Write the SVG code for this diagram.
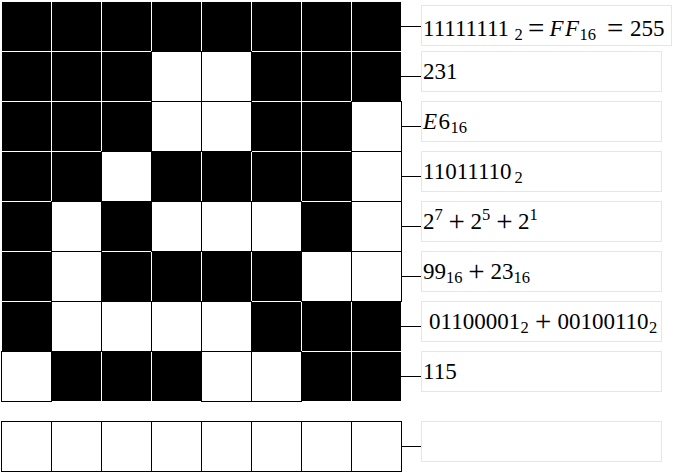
<svg xmlns="http://www.w3.org/2000/svg" width="676" height="472" viewBox="0 0 676 472">
<style>
.w{fill:#fff;stroke:#000;stroke-width:1}
.b{fill:#000}
.box{fill:#fff;stroke:#e6e6e6;stroke-width:1}
.s{font-size:16.5px}
.i{font-style:italic}
.op{font-size:29px}
#connectors line{stroke:#000;stroke-width:1}
</style>
<rect width="676" height="472" fill="#fff"/>
<g id="grid">
  <g id="row0">
    <rect class="b" x="2" y="2" width="49" height="49"/><rect class="b" x="52" y="2" width="49" height="49"/><rect class="b" x="102" y="2" width="49" height="49"/><rect class="b" x="152" y="2" width="49" height="49"/><rect class="b" x="202" y="2" width="49" height="49"/><rect class="b" x="252" y="2" width="49" height="49"/><rect class="b" x="302" y="2" width="49" height="49"/><rect class="b" x="352" y="2" width="49" height="49"/>
  </g>
  <g id="row1">
    <rect class="b" x="2" y="52" width="49" height="49"/><rect class="b" x="52" y="52" width="49" height="49"/><rect class="b" x="102" y="52" width="49" height="49"/><rect class="w" x="151.5" y="51.5" width="50" height="50"/><rect class="w" x="201.5" y="51.5" width="50" height="50"/><rect class="b" x="252" y="52" width="49" height="49"/><rect class="b" x="302" y="52" width="49" height="49"/><rect class="b" x="352" y="52" width="49" height="49"/>
  </g>
  <g id="row2">
    <rect class="b" x="2" y="102" width="49" height="49"/><rect class="b" x="52" y="102" width="49" height="49"/><rect class="b" x="102" y="102" width="49" height="49"/><rect class="w" x="151.5" y="101.5" width="50" height="50"/><rect class="w" x="201.5" y="101.5" width="50" height="50"/><rect class="b" x="252" y="102" width="49" height="49"/><rect class="b" x="302" y="102" width="49" height="49"/><rect class="w" x="351.5" y="101.5" width="50" height="50"/>
  </g>
  <g id="row3">
    <rect class="b" x="2" y="152" width="49" height="49"/><rect class="b" x="52" y="152" width="49" height="49"/><rect class="w" x="101.5" y="151.5" width="50" height="50"/><rect class="b" x="152" y="152" width="49" height="49"/><rect class="b" x="202" y="152" width="49" height="49"/><rect class="b" x="252" y="152" width="49" height="49"/><rect class="b" x="302" y="152" width="49" height="49"/><rect class="w" x="351.5" y="151.5" width="50" height="50"/>
  </g>
  <g id="row4">
    <rect class="b" x="2" y="202" width="49" height="49"/><rect class="w" x="51.5" y="201.5" width="50" height="50"/><rect class="b" x="102" y="202" width="49" height="49"/><rect class="w" x="151.5" y="201.5" width="50" height="50"/><rect class="w" x="201.5" y="201.5" width="50" height="50"/><rect class="w" x="251.5" y="201.5" width="50" height="50"/><rect class="b" x="302" y="202" width="49" height="49"/><rect class="w" x="351.5" y="201.5" width="50" height="50"/>
  </g>
  <g id="row5">
    <rect class="b" x="2" y="252" width="49" height="49"/><rect class="w" x="51.5" y="251.5" width="50" height="50"/><rect class="b" x="102" y="252" width="49" height="49"/><rect class="b" x="152" y="252" width="49" height="49"/><rect class="b" x="202" y="252" width="49" height="49"/><rect class="b" x="252" y="252" width="49" height="49"/><rect class="w" x="301.5" y="251.5" width="50" height="50"/><rect class="w" x="351.5" y="251.5" width="50" height="50"/>
  </g>
  <g id="row6">
    <rect class="b" x="2" y="302" width="49" height="49"/><rect class="w" x="51.5" y="301.5" width="50" height="50"/><rect class="w" x="101.5" y="301.5" width="50" height="50"/><rect class="w" x="151.5" y="301.5" width="50" height="50"/><rect class="w" x="201.5" y="301.5" width="50" height="50"/><rect class="b" x="252" y="302" width="49" height="49"/><rect class="b" x="302" y="302" width="49" height="49"/><rect class="b" x="352" y="302" width="49" height="49"/>
  </g>
  <g id="row7">
    <rect class="w" x="1.5" y="351.5" width="50" height="50"/><rect class="b" x="52" y="352" width="49" height="49"/><rect class="b" x="102" y="352" width="49" height="49"/><rect class="b" x="152" y="352" width="49" height="49"/><rect class="w" x="201.5" y="351.5" width="50" height="50"/><rect class="w" x="251.5" y="351.5" width="50" height="50"/><rect class="b" x="302" y="352" width="49" height="49"/><rect class="b" x="352" y="352" width="49" height="49"/>
  </g>
  <g id="row8">
    <rect class="w" x="1.5" y="421.5" width="50" height="50"/><rect class="w" x="51.5" y="421.5" width="50" height="50"/><rect class="w" x="101.5" y="421.5" width="50" height="50"/><rect class="w" x="151.5" y="421.5" width="50" height="50"/><rect class="w" x="201.5" y="421.5" width="50" height="50"/><rect class="w" x="251.5" y="421.5" width="50" height="50"/><rect class="w" x="301.5" y="421.5" width="50" height="50"/><rect class="w" x="351.5" y="421.5" width="50" height="50"/>
  </g>
</g>
<g id="connectors">
  <line x1="401" y1="26.5" x2="421" y2="26.5"/>
  <line x1="401" y1="76.5" x2="421" y2="76.5"/>
  <line x1="401" y1="126.5" x2="421" y2="126.5"/>
  <line x1="401" y1="176.5" x2="421" y2="176.5"/>
  <line x1="401" y1="226.5" x2="421" y2="226.5"/>
  <line x1="401" y1="276.5" x2="421" y2="276.5"/>
  <line x1="401" y1="326.5" x2="421" y2="326.5"/>
  <line x1="401" y1="376.5" x2="421" y2="376.5"/>
  <line x1="401" y1="446.5" x2="421" y2="446.5"/>
</g>
<g id="labels" font-family="Liberation Serif, serif" font-size="23" fill="#000">
<g id="label0">
  <rect class="box" x="421.5" y="5.5" width="250" height="40"/>
  <text y="36"><tspan x="423">11111111</tspan><tspan class="s" x="514.5" dy="4">2</tspan><tspan class="op" x="528" dy="-2">=</tspan><tspan class="i" x="549.5" dy="-2">F</tspan><tspan class="i" x="565">F</tspan><tspan class="s" x="579.5" dy="4">16</tspan><tspan class="op" x="607" dy="-2">=</tspan><tspan x="630" dy="-2">255</tspan></text>
</g>
<g id="label1">
  <rect class="box" x="421.5" y="51.5" width="240" height="40"/>
  <text x="423" y="79">231</text>
</g>
<g id="label2">
  <rect class="box" x="421.5" y="101.5" width="240" height="40"/>
  <text y="129"><tspan class="i" x="423">E</tspan><tspan x="438.5">6</tspan><tspan class="s" x="450.5" dy="4">16</tspan></text>
</g>
<g id="label3">
  <rect class="box" x="421.5" y="151.5" width="240" height="40"/>
  <text y="179"><tspan x="423">11011110</tspan><tspan class="s" x="514.5" dy="4">2</tspan></text>
</g>
<g id="label4">
  <rect class="box" x="421.5" y="201.5" width="240" height="40"/>
  <text y="229"><tspan x="423">2</tspan><tspan class="s" x="434.5" dy="-9">7</tspan><tspan class="op" x="448.5" dy="11">+</tspan><tspan x="470.5" dy="-2">2</tspan><tspan class="s" x="482" dy="-9">5</tspan><tspan class="op" x="496.2" dy="11">+</tspan><tspan x="518" dy="-2">2</tspan><tspan class="s" x="529.5" dy="-9">1</tspan></text>
</g>
<g id="label5">
  <rect class="box" x="421.5" y="251.5" width="240" height="40"/>
  <text y="279"><tspan x="423">99</tspan><tspan class="s" x="446" dy="4">16</tspan><tspan class="op" x="468.2" dy="-2">+</tspan><tspan x="490.5" dy="-2">23</tspan><tspan class="s" x="513.5" dy="4">16</tspan></text>
</g>
<g id="label6">
  <rect class="box" x="421.5" y="301.5" width="240" height="40"/>
  <text y="329"><tspan x="429">01100001</tspan><tspan class="s" x="520.5" dy="4">2</tspan><tspan class="op" x="535" dy="-2">+</tspan><tspan x="557.4" dy="-2">00100110</tspan><tspan class="s" x="649" dy="4">2</tspan></text>
</g>
<g id="label7">
  <rect class="box" x="421.5" y="351.5" width="240" height="40"/>
  <text x="423" y="379">115</text>
</g>
<g id="label8">
  <rect class="box" x="421.5" y="421.5" width="240" height="40"/>
</g>
</g>
</svg>
